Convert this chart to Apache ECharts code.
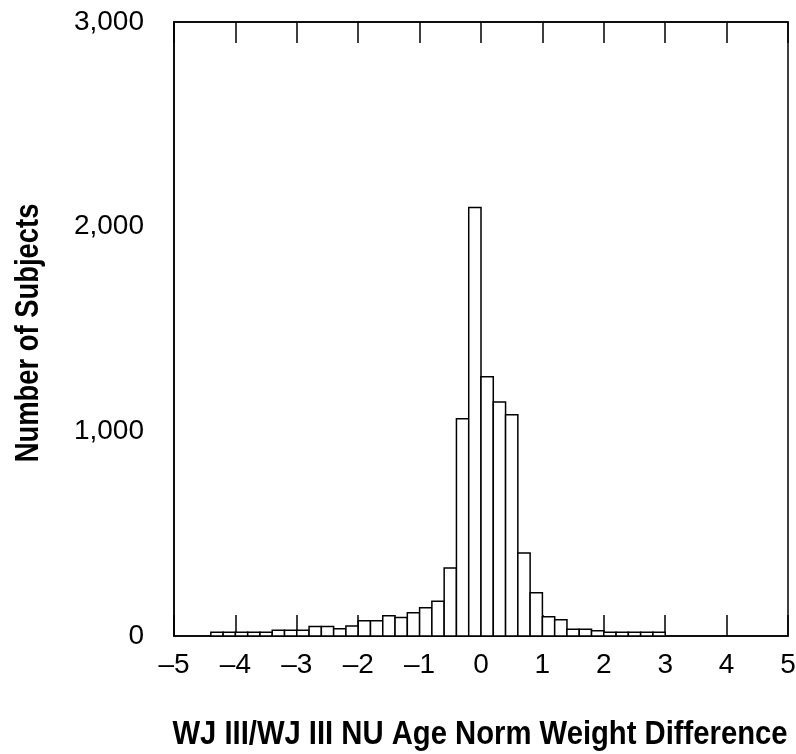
<!DOCTYPE html>
<html>
<head>
<meta charset="utf-8">
<script src="https://cdn.jsdelivr.net/npm/echarts@6/dist/echarts.min.js"></script>
<style>
  html, body { margin: 0; padding: 0; background: #fff; }
  #chart { width: 796px; height: 754px; }
</style>
</head>
<body>
<div id="chart"></div>
<script>
// Histogram bins: left edge of each 0.2-wide bin and its subject count
const BIN_WIDTH = 0.2;
const binStarts = [
  -4.4, -4.2, -4.0, -3.8, -3.6, -3.4, -3.2, -3.0, -2.8, -2.6,
  -2.4, -2.2, -2.0, -1.8, -1.6, -1.4, -1.2, -1.0, -0.8, -0.6,
  -0.4, -0.2, 0.0, 0.2, 0.4, 0.6, 0.8, 1.0, 1.2, 1.4,
  1.6, 1.8, 2.0, 2.2, 2.4, 2.6, 2.8
];
const counts = [
  18, 18, 18, 18, 18, 28, 28, 28, 47, 47,
  36, 49, 75, 75, 99, 90, 114, 138, 170, 332,
  1062, 2094, 1267, 1143, 1081, 405, 211, 94, 79, 33,
  33, 26, 18, 18, 18, 18, 18
];

// Axis ticks
const xTicks = [-5, -4, -3, -2, -1, 0, 1, 2, 3, 4, 5];
const yTicks = [0, 1000, 2000, 3000];

const xTitle = 'WJ III/WJ III NU Age Norm Weight Difference';
const yTitle = 'Number of Subjects';

const FONT = "'Liberation Sans Narrow', 'Arial Narrow', 'Liberation Sans', Arial, sans-serif";

const chart = echarts.init(document.getElementById('chart'), null, { renderer: 'canvas' });

const xMin = xTicks[0], xMax = xTicks[xTicks.length - 1];
const xStep = xTicks[1] - xTicks[0];
const yMin = yTicks[0], yMax = yTicks[yTicks.length - 1];
const yStep = yTicks[1] - yTicks[0];

const axisLineStyle = { color: '#000', width: 1.5 };

chart.setOption({
  animation: false,
  backgroundColor: '#fff',
  grid: {
    left: 174, top: 22, width: 614, height: 614,
    outerBoundsMode: 'none',
    containLabel: false,
    show: true, borderColor: '#000', borderWidth: 1.5, backgroundColor: 'transparent'
  },
  xAxis: [
    {
      type: 'value', position: 'bottom',
      min: xMin, max: xMax, interval: xStep,
      splitLine: { show: false },
      axisLine: { show: true, lineStyle: axisLineStyle, onZero: false },
      axisTick: { show: true, inside: true, length: 21, lineStyle: axisLineStyle },
      axisLabel: {
        margin: 15, color: '#000', fontFamily: FONT, fontSize: 28,
        formatter: v => (v < 0 ? '\u2013' + Math.abs(v) : String(v))
      }
    },
    {
      type: 'value', position: 'top',
      min: xMin, max: xMax, interval: xStep,
      splitLine: { show: false },
      axisLine: { show: true, lineStyle: axisLineStyle, onZero: false },
      axisTick: { show: true, inside: true, length: 21, lineStyle: axisLineStyle },
      axisLabel: { show: false }
    }
  ],
  yAxis: {
    type: 'value',
    min: yMin, max: yMax, interval: yStep,
    splitLine: { show: false },
    axisLine: { show: true, lineStyle: axisLineStyle, onZero: false },
    axisTick: { show: false },
    axisLabel: {
      margin: 30, color: '#000', fontFamily: FONT, fontSize: 28,
      formatter: v => v.toLocaleString('en-US')
    }
  },
  // Axis titles, set in a condensed bold face
  graphic: [
    {
      type: 'text', x: 480, y: 735, scaleX: 0.86,
      style: {
        text: xTitle, x: 0, y: 0, align: 'center', verticalAlign: 'middle',
        fill: '#000', font: "bold 34px " + FONT
      }
    },
    {
      type: 'text', x: 29, y: 333, rotation: Math.PI / 2, scaleX: 0.83,
      style: {
        text: yTitle, x: 0, y: 0, align: 'center', verticalAlign: 'middle',
        fill: '#000', font: "bold 33px " + FONT
      }
    }
  ],
  series: [{
    type: 'custom',
    xAxisIndex: 0,
    yAxisIndex: 0,
    data: binStarts.map((x, i) => [x, counts[i]]),
    encode: { x: 0, y: 1 },
    renderItem: function (params, api) {
      const x0 = api.value(0);
      const h = api.value(1);
      const topLeft = api.coord([x0, h]);
      const bottomRight = api.coord([x0 + BIN_WIDTH, 0]);
      return {
        type: 'rect',
        shape: {
          x: topLeft[0],
          y: topLeft[1],
          width: bottomRight[0] - topLeft[0],
          height: bottomRight[1] - topLeft[1]
        },
        style: { fill: '#fff', stroke: '#000', lineWidth: 1.5 }
      };
    }
  }]
});
</script>
</body>
</html>
